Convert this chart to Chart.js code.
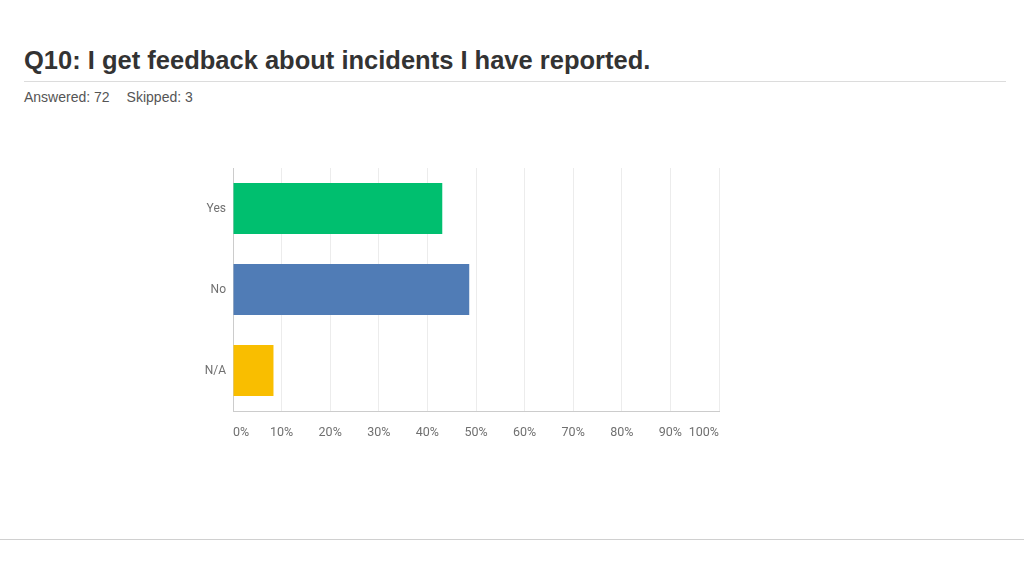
<!DOCTYPE html>
<html lang="en">
<head>
  <meta charset="UTF-8">
  <title>Q10 Feedback</title>
  <script src="https://cdn.jsdelivr.net/npm/chart.js"></script>
  <style>
    body {
      margin: 0;
      width: 1024px;
      height: 576px;
      background: #fff;
      position: relative;
      overflow: hidden;
      font-family: "Liberation Sans", Arial, sans-serif;
    }
    .title {
      position: absolute;
      left: 24px;
      top: 46px;
      font-size: 25.5px;
      font-weight: bold;
      color: #333;
      white-space: nowrap;
    }
    .rule {
      position: absolute;
      left: 24px;
      top: 81px;
      width: 982px;
      height: 1px;
      background: #dcdcdc;
    }
    .meta {
      position: absolute;
      left: 24px;
      top: 89px;
      font-size: 14px;
      color: #555;
      white-space: nowrap;
    }
    .meta span { margin-right: 17px; }
    .bottom-rule {
      position: absolute;
      left: 0;
      top: 539px;
      width: 1024px;
      height: 1px;
      background: #d0d0d0;
    }
    .chart-wrap {
      position: absolute;
      left: 0;
      top: 0;
      width: 1024px;
      height: 576px;
    }
  </style>
</head>
<body>

<div class="title">Q10: I get feedback about incidents I have reported.</div>
<div class="rule"></div>
<div class="meta"><span>Answered: 72</span><span>Skipped: 3</span></div>
<div class="bottom-rule"></div>

<div class="chart-wrap">
  <canvas id="barChart" width="1024" height="576"></canvas>
</div>

<script>
  const categories = ['Yes', 'No', 'N/A'];
  const percentages = [43.06, 48.61, 8.33];
  const barColors = ['#00bf6f', '#507cb6', '#f9be00'];
  const tickLabels = ['0%', '10%', '20%', '30%', '40%', '50%', '60%', '70%', '80%', '90%', '100%'];

  new Chart(document.getElementById('barChart').getContext('2d'), {
    type: 'bar',
    data: {
      labels: categories,
      datasets: [{
        data: percentages,
        backgroundColor: barColors,
        borderWidth: 0,
        barPercentage: 0.63,
        categoryPercentage: 1
      }]
    },
    options: {
      indexAxis: 'y',
      responsive: false,
      animation: false,
      devicePixelRatio: 1,
      layout: {
        padding: { left: 193, right: 305, top: 168, bottom: 135 }
      },
      plugins: {
        legend: { display: false },
        tooltip: { enabled: false }
      },
      scales: {
        x: {
          min: 0,
          max: 100,
          afterFit: scale => { scale.height = 30; },
          afterBuildTicks: scale => {
            scale.ticks = tickLabels.map((t, i) => ({ value: i * 10 }));
          },
          ticks: {
            color: '#707070',
            font: { family: 'Roboto, "Open Sans", sans-serif', size: 12.5 },
            padding: 14,
            align: 'inner',
            autoSkip: false,
            maxRotation: 0,
            callback: (v, i) => tickLabels[i]
          },
          grid: { color: '#ececec', drawTicks: false },
          border: { color: '#cccccc' }
        },
        y: {
          afterFit: scale => { scale.width = 40; },
          ticks: {
            color: '#707070',
            font: { family: 'Roboto, "Open Sans", sans-serif', size: 12 },
            padding: 7
          },
          grid: { display: false, drawTicks: false },
          border: { color: '#cccccc' }
        }
      }
    }
  });
</script>

</body>
</html>
